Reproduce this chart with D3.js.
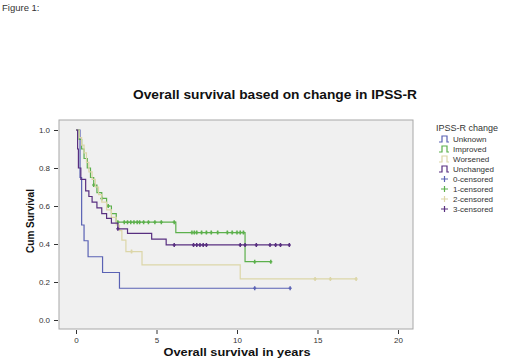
<!DOCTYPE html>
<html>
<head>
<meta charset="utf-8">
<script src="https://cdn.jsdelivr.net/npm/d3@7"></script>
<style>
  body { margin: 0; background: #fff; }
  svg text { font-family: "Liberation Sans", Arial, sans-serif; }
</style>
</head>
<body>
<div id="chart"></div>
<script>
// groups and colours
var groups = ["Unknown", "Improved", "Worsened", "Unchanged"];
var colors = ["#5a62b4", "#5cb04c", "#dcd6a8", "#582f80"];

// step times (years) and survival after each step
var unknownTimes = [0, 0.25, 0.35, 0.5, 0.75, 1.65, 2.7, 13.3];
var unknownSurv  = [1, 0.75, 0.5, 0.417, 0.333, 0.25, 0.167, 0.167];

var improvedTimes = [0, 0.2, 0.35, 0.5, 0.7, 0.9, 1.1, 1.3, 1.6, 1.9, 2.2, 2.5, 6.2, 10.5, 12.1];
var improvedSurv  = [1, 0.95, 0.9, 0.85, 0.8, 0.75, 0.71, 0.67, 0.64, 0.6, 0.56, 0.515, 0.46, 0.307, 0.307];

var worsenedTimes = [0, 0.2, 0.35, 0.5, 0.65, 0.8, 1.0, 1.2, 1.4, 1.6, 1.9, 2.2, 2.5, 2.7, 2.85, 3.1, 4.1, 10.2, 17.4];
var worsenedSurv  = [1, 0.96, 0.92, 0.88, 0.83, 0.78, 0.74, 0.7, 0.66, 0.62, 0.58, 0.54, 0.5, 0.47, 0.42, 0.36, 0.29, 0.216, 0.216];

var unchangedTimes = [0, 0.1, 0.15, 0.3, 0.6, 0.8, 1.0, 1.3, 1.6, 1.9, 2.2, 2.6, 3.2, 4.7, 5.6, 13.25];
var unchangedSurv  = [1, 0.9, 0.8, 0.74, 0.68, 0.65, 0.62, 0.59, 0.56, 0.535, 0.51, 0.48, 0.456, 0.426, 0.395, 0.395];

// censored times
var unknownCens = [11.1, 13.3];
var improvedCens = [1.1, 1.6, 2.0, 2.6, 3.0, 3.2, 3.4, 3.6, 3.8, 3.95, 4.2, 4.5, 4.9, 5.3, 6.1,
                    7.2, 7.35, 7.5, 7.8, 8.1, 8.4, 8.8, 9.4, 9.7, 10.0, 10.2, 10.4, 11.1, 12.1];
var worsenedCens = [3.45, 14.85, 15.8, 17.4];
var unchangedCens = [2.6, 6.1, 7.3, 7.5, 7.7, 7.9, 8.1, 10.2, 10.5, 11.2, 12.05, 12.4, 12.7, 13.25];

var xTicks = [0, 5, 10, 15, 20];
var yTicks = [0, 0.2, 0.4, 0.6, 0.8, 1.0];
var legendItems = ["Unknown", "Improved", "Worsened", "Unchanged", "0-censored", "1-censored", "2-censored", "3-censored"];

var series = [
  { times: unknownTimes, surv: unknownSurv, cens: unknownCens },
  { times: improvedTimes, surv: improvedSurv, cens: improvedCens },
  { times: worsenedTimes, surv: worsenedSurv, cens: worsenedCens },
  { times: unchangedTimes, surv: unchangedSurv, cens: unchangedCens }
];

var width = 520, height = 360;
var svg = d3.select("#chart").append("svg")
  .attr("width", width)
  .attr("height", height);

svg.append("text")
  .attr("x", 2).attr("y", 11)
  .style("font-size", "9.5px")
  .attr("fill", "#333")
  .text("Figure 1:");

// plot frame
var box = { left: 59, top: 120, right: 413, bottom: 329 };
svg.append("rect")
  .attr("x", box.left).attr("y", box.top)
  .attr("width", box.right - box.left).attr("height", box.bottom - box.top)
  .attr("fill", "#f0f0f0")
  .attr("stroke", "#a8a8a8");

var x = d3.scaleLinear().domain([0, 20]).range([76, 398]);
var y = d3.scaleLinear().domain([0, 1]).range([320, 130]);

svg.append("g")
  .attr("transform", "translate(0," + (box.bottom + 1) + ")")
  .call(d3.axisBottom(x).tickValues(xTicks).tickFormat(d3.format("d")).tickSize(4).tickPadding(3))
  .call(function(g) { g.select(".domain").remove(); });

svg.append("g")
  .attr("transform", "translate(" + (box.left - 1) + ",0)")
  .call(d3.axisLeft(y).tickValues(yTicks).tickFormat(d3.format(".1f")).tickSize(4).tickPadding(4))
  .call(function(g) { g.select(".domain").remove(); });

svg.selectAll(".tick text")
  .style("font-size", "8px")
  .attr("fill", "#333");
svg.selectAll(".tick line")
  .attr("stroke", "#333");

// titles
svg.append("text")
  .attr("x", 275).attr("y", 99)
  .attr("text-anchor", "middle")
  .attr("textLength", 284)
  .attr("lengthAdjust", "spacingAndGlyphs")
  .style("font-size", "12px")
  .style("font-weight", "bold")
  .attr("fill", "#111")
  .text("Overall survival based on change in IPSS-R");

svg.append("text")
  .attr("x", 237).attr("y", 356)
  .attr("text-anchor", "middle")
  .attr("textLength", 147)
  .attr("lengthAdjust", "spacingAndGlyphs")
  .style("font-size", "10.5px")
  .style("font-weight", "bold")
  .attr("fill", "#111")
  .text("Overall survival in years");

svg.append("text")
  .attr("transform", "translate(34,221) rotate(-90)")
  .attr("text-anchor", "middle")
  .style("font-size", "10px")
  .style("font-weight", "bold")
  .attr("fill", "#111")
  .text("Cum Survival");

// curves
var line = d3.line()
  .x(function(d) { return x(d[0]); })
  .y(function(d) { return y(d[1]); })
  .curve(d3.curveStepAfter);

function survAt(s, t) {
  var v = s.surv[0];
  for (var i = 0; i < s.times.length; i++) {
    if (s.times[i] <= t) v = s.surv[i];
  }
  return v;
}

series.forEach(function(s, i) {
  var pts = s.times.map(function(t, j) { return [t, s.surv[j]]; });
  var g = svg.append("g");
  g.append("path")
    .attr("d", line(pts))
    .attr("fill", "none")
    .attr("stroke", colors[i])
    .attr("stroke-width", 1.2);

  g.selectAll("path.cens")
    .data(s.cens)
    .enter().append("path")
    .attr("class", "cens")
    .attr("d", function(t) {
      var cx = x(t), cy = y(survAt(s, t));
      return "M" + (cx - 1.5) + "," + cy + "h3M" + cx + "," + (cy - 2) + "v4";
    })
    .attr("stroke", colors[i])
    .attr("stroke-width", 1.5);
});

// legend
svg.append("text")
  .attr("x", 436).attr("y", 131)
  .style("font-size", "9px")
  .attr("fill", "#333")
  .text("IPSS-R change");

var legend = svg.selectAll(".legend")
  .data(legendItems)
  .enter().append("g")
  .attr("class", "legend")
  .attr("transform", function(d, i) { return "translate(0," + (139 + i * 10) + ")"; });

legend.append("path")
  .attr("d", function(d, i) {
    if (i < 4) return "M439,3h3v-6h5v6h2";
    return "M441,0h7M444.5,-3v6";
  })
  .attr("fill", "none")
  .attr("stroke", function(d, i) { return colors[i % 4]; })
  .attr("stroke-width", 1.2);

legend.append("text")
  .attr("x", 453)
  .attr("dy", "0.35em")
  .style("font-size", "8px")
  .attr("fill", "#333")
  .text(function(d) { return d; });
</script>
</body>
</html>
